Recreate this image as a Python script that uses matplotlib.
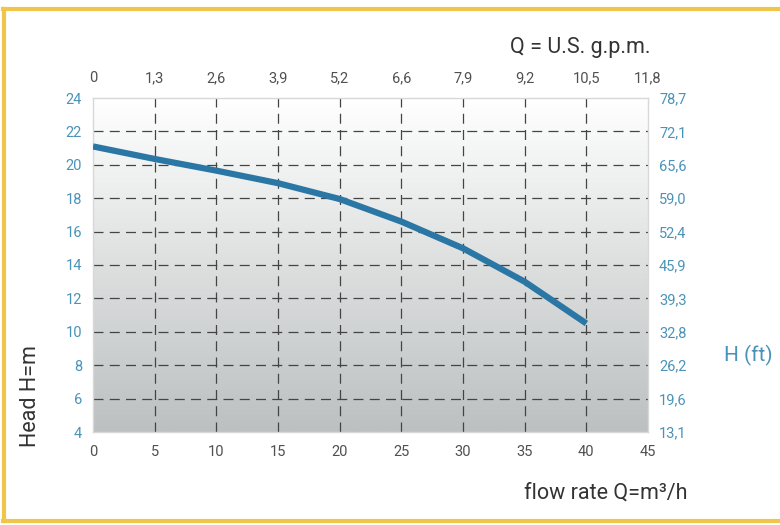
import matplotlib.pyplot as plt
import numpy as np
from matplotlib.colors import LinearSegmentedColormap
from matplotlib.lines import Line2D

# pump curve
flow = [0, 5, 10, 15, 20, 25, 30, 35, 40]
head = [21.1, 20.35, 19.65, 18.9, 17.95, 16.6, 15.0, 13.0, 10.5]

x_ticks = [0, 5, 10, 15, 20, 25, 30, 35, 40, 45]
gpm_labels = ['0', '1,3', '2,6', '3,9', '5,2', '6,6', '7,9', '9,2', '10,5', '11,8']
y_ticks = [4, 6, 8, 10, 12, 14, 16, 18, 20, 22, 24]
ft_labels = ['13,1', '19,6', '26,2', '32,8', '39,3', '45,9', '52,4', '59,0',
             '65,6', '72,1', '78,7']

blue = '#4a93b8'
line_blue = '#2a77a6'
grey_txt = '#505050'
yellow = '#f0c64a'

plt.rcParams['font.family'] = ['Roboto', 'DejaVu Sans']

fig = plt.figure(figsize=(7.8, 5.25), dpi=100)
ax = fig.add_axes([93 / 780, 93 / 525, 555 / 780, 334 / 525])

# gradient background, white at the top
grad = np.linspace(0, 1, 256).reshape(-1, 1)
bg = LinearSegmentedColormap.from_list('bg', ['#ffffff', '#bcc0c0'])
ax.imshow(grad, cmap=bg, aspect='auto', extent=[0, 45, 4, 24],
          origin='upper', zorder=0)

ax.set_xlim(0, 45)
ax.set_ylim(4, 24)

for xv in x_ticks[1:-1]:
    ax.axvline(xv, color='#444444', lw=0.9, ls=(0, (8, 5)), zorder=1)
for yv in y_ticks[1:-1]:
    ax.axhline(yv, color='#444444', lw=0.9, ls=(0, (8, 5)), zorder=1)

ax.plot(flow, head, color=line_blue, lw=4.5, solid_capstyle='butt', zorder=3)

for s in ax.spines.values():
    s.set_color('#d8d8d8')
    s.set_linewidth(1)

ax.set_xticks(x_ticks)
ax.set_xticklabels([str(v) for v in x_ticks])
ax.set_yticks(y_ticks)
ax.tick_params(axis='both', length=0, labelsize=10.5)
ax.tick_params(axis='x', colors=grey_txt, pad=9)
ax.tick_params(axis='y', colors=blue, pad=8)

top = ax.secondary_xaxis('top')
top.set_xticks(x_ticks)
top.set_xticklabels(gpm_labels)
top.tick_params(length=0, labelsize=10.5, colors=grey_txt, pad=9)
top.spines['top'].set_visible(False)

right = ax.secondary_yaxis('right')
right.set_yticks(y_ticks)
right.set_yticklabels(ft_labels)
right.tick_params(length=0, labelsize=10.5, colors=blue, pad=8)
right.spines['right'].set_visible(False)

fig.text(580 / 780, 1 - 47 / 525, 'Q = U.S. g.p.m.', fontsize=15.5,
         color='#333333', ha='center', va='center')
fig.text(606 / 780, 1 - 493 / 525, 'flow rate Q=m\u00b3/h', fontsize=15.5,
         color='#333333', ha='center', va='center')
fig.text(748 / 780, 1 - 355 / 525, 'H (ft)', fontsize=15,
         color=blue, ha='center', va='center')
fig.text(30 / 780, 1 - 396 / 525, 'Head H=m', fontsize=15.5,
         color='#333333', ha='center', va='center', rotation=90)

# yellow frame
fig.add_artist(Line2D([4 / 780, 4 / 780], [1 - 9 / 525, 1 - 521 / 525],
                      color=yellow, lw=3, transform=fig.transFigure))
fig.add_artist(Line2D([3 / 780, 1], [1 - 9 / 525, 1 - 9 / 525],
                      color=yellow, lw=3, transform=fig.transFigure))
fig.add_artist(Line2D([3 / 780, 1], [1 - 521 / 525, 1 - 521 / 525],
                      color=yellow, lw=3, transform=fig.transFigure))

fig.savefig('out.png', dpi=100)
